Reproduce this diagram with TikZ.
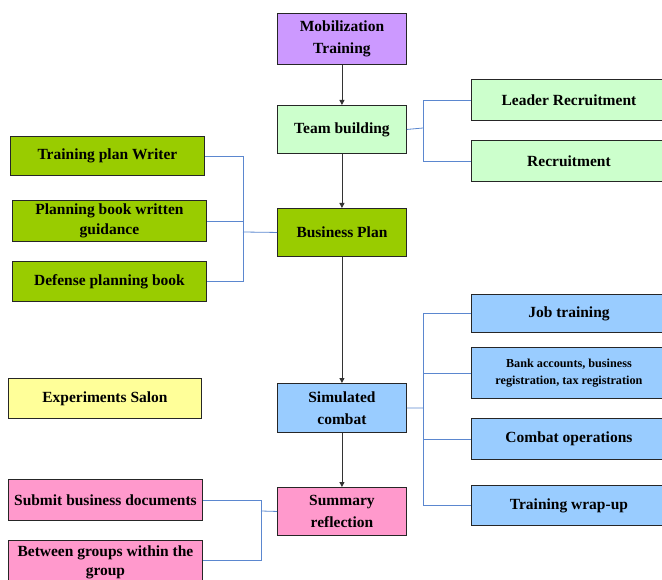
\documentclass[tikz,border=0pt]{standalone}
\usepackage{fontspec}
\setmainfont{Liberation Serif}
\usetikzlibrary{arrows.meta}
\definecolor{cpurple}{HTML}{CC99FF}
\definecolor{clgreen}{HTML}{CCFFCC}
\definecolor{cgreen}{HTML}{99CC00}
\definecolor{cyellow}{HTML}{FFFF99}
\definecolor{cblue}{HTML}{99CCFF}
\definecolor{cpink}{HTML}{FF99CC}
\definecolor{cline}{HTML}{5B87CF}
\tikzset{
  box/.style={draw=black!85, line width=0.9pt, align=center, inner sep=0pt,
    font=\fontsize{15.5}{21.5}\selectfont\bfseries},
  smallbox/.style={font=\fontsize{12.2}{17}\selectfont\bfseries},
  link/.style={draw=cline, line width=0.8pt},
  flow/.style={draw=black!80, line width=0.8pt, -{Triangle[length=5pt,width=5pt]}}
}
\newcommand{\bx}[8][]{% [extra], name, x1, y1, x2, y2, fill, text
  \node[box, #1, fill=#7, minimum width={(#5-#3)*1pt}, minimum height={(#6-#4)*1pt}, anchor=north west] (#2) at (#3pt,-#4pt) {#8};}
\begin{document}
\begin{tikzpicture}
\useasboundingbox (0,0) rectangle (662pt,-580pt);
\begin{scope}
\clip (0,0) rectangle (662pt,-580pt);
\bx{mob}{277}{13}{406}{64}{cpurple}{Mobilization\\Training}
\bx{team}{277}{105}{406}{153}{clgreen}{Team building}
\bx{lead}{471}{79}{666}{120}{clgreen}{Leader Recruitment}
\bx{recr}{471}{140}{666}{181}{clgreen}{Recruitment}
\bx{tpw}{10}{136}{204}{175}{cgreen}{Training plan Writer}
\bx{pbw}{12}{200}{206}{241}{cgreen}{Planning book written\\[-2pt]guidance}
\bx{dpb}{12}{261}{206}{301}{cgreen}{Defense planning book}
\bx{bp}{277}{208}{406}{256}{cgreen}{Business Plan}
\bx{exp}{8}{378}{201}{418}{cyellow}{Experiments Salon}
\bx{job}{471}{294}{666}{332}{cblue}{Job training}
\bx[smallbox]{bank}{471}{347}{666}{398}{cblue}{Bank accounts, business\\registration, tax registration}
\bx{cop}{471}{418}{666}{459}{cblue}{Combat operations}
\bx{wrap}{471}{485}{666}{525}{cblue}{Training wrap-up}
\bx{sim}{277}{383}{406}{432}{cblue}{Simulated\\combat}
\bx{sum}{277}{487}{406}{535}{cpink}{Summary\\reflection}
\bx{sub}{8}{479}{202}{520}{cpink}{Submit business documents}
\bx{btw}{8}{540}{202}{584}{cpink}{Between groups within the\\[-2pt]group}

% flow arrows
\draw[flow] (mob.south) -- (team.north);
\draw[flow] (team.south) -- (bp.north);
\draw[flow] (bp.south) -- (sim.north);
\draw[flow] (sim.south) -- (sum.north);

% team branches
\coordinate (jt) at (423pt,-128pt);
\draw[link] (team.east) -- (jt);
\draw[link] (lead.west) -| (jt);
\draw[link] (recr.west) -| (jt);

% business plan branches
\coordinate (jb) at (243pt,-232pt);
\draw[link] (bp.west) -- (jb);
\draw[link] (tpw.east) -| (jb);
\draw[link] (pbw.east) -| (jb);
\draw[link] (dpb.east) -| (jb);

% simulated combat branches
\coordinate (js) at (423pt,-408pt);
\draw[link] (sim.east) -- (js);
\draw[link] (job.west) -| (js);
\draw[link] (bank.west) -| (js);
\draw[link] (cop.west) -| (js);
\draw[link] (wrap.west) -| (js);

% summary branches
\coordinate (jm) at (261pt,-511pt);
\draw[link] (sum.west) -- (jm);
\draw[link] (sub.east) -| (jm);
\draw[link] ([yshift=2pt]btw.east) -| (jm);
\end{scope}
\end{tikzpicture}
\end{document}
